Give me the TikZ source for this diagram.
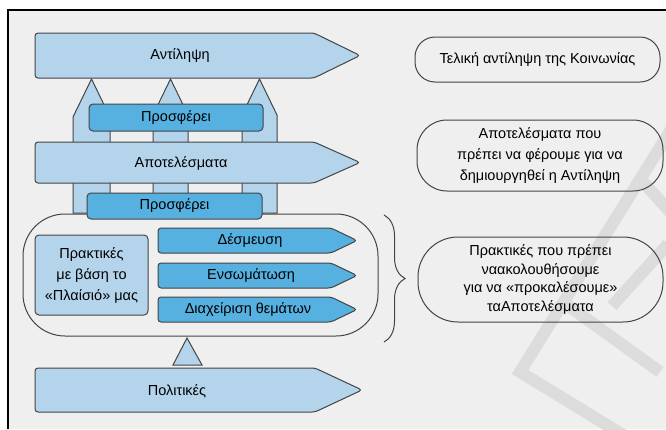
\documentclass[tikz,border=0pt]{standalone}
\usepackage{fontspec}
\setmainfont{Liberation Sans}
\usetikzlibrary{decorations.pathreplacing}
\definecolor{lightfill}{HTML}{B4D4EC}
\definecolor{darkfill}{HTML}{56B0E0}
\definecolor{edge}{HTML}{444444}
\definecolor{canvas}{HTML}{EFEFEF}
\definecolor{stamp}{HTML}{DCDCDC}
\begin{document}
\begin{tikzpicture}[x=1pt,y=-1pt,
  shapeline/.style={draw=edge, line width=1pt, rounded corners=3pt},
  lightshape/.style={shapeline, fill=lightfill},
  darkshape/.style={shapeline, fill=darkfill},
  txt/.style={font=\fontsize{14.5}{21}\selectfont, text=black, align=center, inner sep=0pt},
  boxnode/.style={txt, draw=edge, line width=1pt, rounded corners=4pt, inner sep=0pt},
  infobox/.style={txt, draw=edge, line width=1pt, inner sep=0pt},
  stampband/.style={draw=stamp, line width=12pt, line cap=butt, line join=miter}
]
\useasboundingbox (0,0) rectangle (666,429);
% page and inner panel
\fill[white] (0,0) rectangle (666,429);
\fill[canvas] (8,10) rectangle (666,429);
% faint stamp in the lower right
\begin{scope}
  \clip (8,10) rectangle (666,429);
  \draw[stampband] (672,128) -- (520,372) -- (625,436);
  \draw[stampband] (643,182) -- (672,214);
  \draw[stampband] (668,244) -- (612,306);
  \draw[stampband] (566,304) -- (660,372);
\end{scope}
% frame
\draw[black, line width=1.6pt] (8,429) -- (8,10) -- (666,10);

% container of the practices
\draw[draw=edge, line width=1pt, rounded corners=42pt] (23,214) rectangle (378,336);
\coordinate (braceTop) at (384,215);
\coordinate (braceBot) at (384,342);

% pillars
\foreach \a/\b in {73/110, 153/188, 242/277}{
  \path[lightshape, rounded corners=0pt]
    (\a,213) -- (\a,{80+2*(\b-\a)/2}) -- ({(\a+\b)/2},79)
    -- (\b,{80+2*(\b-\a)/2}) -- (\b,213) -- cycle;
}

% big arrows
\path[lightshape] (35,33) -- (314,33) -- (360,55.5) -- (314,78) -- (35,78) -- cycle;
\node[txt] (perception) at (180,56) {Αντίληψη};
\path[lightshape] (35,142) -- (314,142) -- (360,162.5) -- (314,183) -- (35,183) -- cycle;
\node[txt] (results) at (181,163) {Αποτελέσματα};

% offer boxes
\node[boxnode, fill=darkfill, minimum width=174pt, minimum height=27pt] (offerA) at (176,117.5) {Προσφέρει};
\node[boxnode, fill=darkfill, minimum width=175pt, minimum height=26pt] (offerB) at (174.5,206) {Προσφέρει};

% practices
\node[boxnode, fill=lightfill, minimum width=113pt, minimum height=80pt] (frame) at (91.5,275) {Πρακτικές\\με βάση το\\«Πλαίσιό» μας};
\path[darkshape] (158,228) -- (331,228) -- (357,240.5) -- (331,253) -- (158,253) -- cycle;
\node[txt] (commit) at (250,241) {Δέσμευση};
\path[darkshape] (158,263) -- (331,263) -- (357,275.5) -- (331,288) -- (158,288) -- cycle;
\node[txt] (embed) at (251,276) {Ενσωμάτωση};
\path[darkshape] (158,297) -- (331,297) -- (357,309.5) -- (331,322) -- (158,322) -- cycle;
\node[txt] (issues) at (248,310) {Διαχείριση θεμάτων};

% policies
\path[lightshape, rounded corners=0pt] (173,365) -- (187,338) -- (202,365) -- cycle;
\path[lightshape] (35,368) -- (315,368) -- (362,390) -- (315,412) -- (35,412) -- cycle;
\node[txt] (policies) at (177,391) {Πολιτικές};

% explanations on the right
\node[infobox, rounded corners=20pt, minimum width=245pt, minimum height=45pt] (goal) at (537.5,59.5) {Τελική αντίληψη της Κοινωνίας};
\node[infobox, rounded corners=30pt, minimum width=246pt, minimum height=71pt] (need) at (540,155.5) {Αποτελέσματα που\\πρέπει να φέρουμε για να\\δημιουργηθεί η Αντίληψη};
\node[infobox, rounded corners=40pt, minimum width=245pt, minimum height=85pt, font=\fontsize{14.5}{18.7}\selectfont] (how) at (540.5,279.5) {Πρακτικές που πρέπει\\ναακολουθήσουμε\\για να «προκαλέσουμε»\\ταΑποτελέσματα};
\draw[draw=edge, line width=1pt, decorate, decoration={brace, amplitude=21pt}] (braceTop) -- (braceBot);
\end{tikzpicture}
\end{document}
